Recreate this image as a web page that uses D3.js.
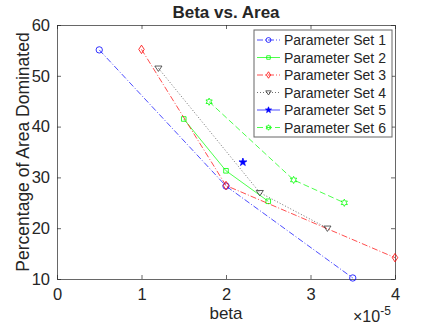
<!DOCTYPE html>
<html>
<head>
<meta charset="utf-8">
<script src="https://cdn.jsdelivr.net/npm/d3@7"></script>
<style>
  body { margin: 0; background: #fff; }
  text { font-family: "Liberation Sans", Arial, sans-serif; fill: #262626; }
</style>
</head>
<body>
<div id="chart"></div>
<script>
// data (beta in units of 1e-5)
var set1 = [[0.5, 55.1], [2, 28.3], [3.5, 10.2]];
var set2 = [[1.5, 41.5], [2, 31.3], [2.5, 25.3]];
var set3 = [[1, 55.2], [2, 28.4], [4, 14.2]];
var set4 = [[1.2, 51.5], [2.4, 27], [3.2, 20]];
var set5 = [[2.2, 33]];
var set6 = [[1.8, 44.9], [2.8, 29.5], [3.4, 25]];
var seriesNames = ["Parameter Set 1", "Parameter Set 2", "Parameter Set 3",
                   "Parameter Set 4", "Parameter Set 5", "Parameter Set 6"];
var xTicks = [0, 1, 2, 3, 4];
var yTicks = [10, 20, 30, 40, 50, 60];

var styles = [
  {color: "#0000ff", dash: "6,2,1,2", symbol: "circle"},
  {color: "#00ff00", dash: null, symbol: "square"},
  {color: "#ff0000", dash: "6,2,1,2", symbol: "diamond"},
  {color: "#333333", dash: "1,2", symbol: "triangle"},
  {color: "#0000ff", dash: null, symbol: "star"},
  {color: "#00ff00", dash: "6,3", symbol: "hexagram"}
];
var allSets = [set1, set2, set3, set4, set5, set6];

var W = 436, H = 327;
var margin = {top: 25, right: 41, bottom: 48, left: 57},
    width = W - margin.left - margin.right,
    height = H - margin.top - margin.bottom;

var svg = d3.select("#chart").append("svg")
    .attr("width", W).attr("height", H);

var g = svg.append("g")
    .attr("transform", "translate(" + margin.left + "," + margin.top + ")");

var xScale = d3.scaleLinear().domain([0, 4]).range([0, width]);
var yScale = d3.scaleLinear().domain([10, 60]).range([height, 0]);

// axes (MATLAB style, ticks pointing in, box on)
var axColor = "#262626";
g.append("g")
    .attr("transform", "translate(0," + height + ")")
    .call(d3.axisBottom(xScale).tickValues(xTicks).tickFormat(d3.format("d"))
      .tickSizeInner(-4).tickSizeOuter(0).tickPadding(9));
g.append("g")
    .call(d3.axisLeft(yScale).tickValues(yTicks).tickFormat(d3.format("d"))
      .tickSizeInner(-4).tickSizeOuter(0).tickPadding(7));
g.append("g")
    .call(d3.axisTop(xScale).tickValues(xTicks).tickSizeInner(-4).tickSizeOuter(0).tickFormat(""));
g.append("g")
    .attr("transform", "translate(" + width + ",0)")
    .call(d3.axisRight(yScale).tickValues(yTicks).tickSizeInner(-4).tickSizeOuter(0).tickFormat(""));

g.selectAll(".domain").attr("stroke", axColor).attr("stroke-opacity", 0.7);
g.selectAll(".tick line").attr("stroke", axColor).attr("stroke-opacity", 0.7);
g.selectAll(".tick text")
    .attr("font-family", "Liberation Sans, Arial, sans-serif")
    .attr("font-size", "16.5px")
    .attr("fill", axColor);

// symbol path for markers
function markerPath(name, s) {
  if (name === "circle") return d3.symbol(d3.symbolCircle, s * s * 0.75)();
  if (name === "square") return d3.symbol(d3.symbolSquare, s * s * 0.5)();
  if (name === "diamond") {
    var a = s * 0.65;
    return "M0," + (-a) + "L" + (a * 0.65) + ",0L0," + a + "L" + (-a * 0.65) + ",0Z";
  }
  if (name === "triangle") {
    var t = s * 0.55;
    return "M" + (-t) + "," + (-t * 0.6) + "L" + t + "," + (-t * 0.6) + "L0," + (t * 0.9) + "Z";
  }
  if (name === "star") return d3.symbol(d3.symbolStar, s * s * 0.45)();
  if (name === "hexagram") {
    var pts = [];
    for (var i = 0; i < 12; i++) {
      var r = i % 2 === 0 ? s * 0.55 : s * 0.3;
      var ang = Math.PI / 6 * i - Math.PI / 2;
      pts.push([r * Math.cos(ang), r * Math.sin(ang)]);
    }
    return "M" + pts.map(function(p) { return p.join(","); }).join("L") + "Z";
  }
}

var line = d3.line()
    .x(function(d) { return xScale(d[0]); })
    .y(function(d) { return yScale(d[1]); });

// draw each series
allSets.forEach(function(data, i) {
  var st = styles[i];
  if (data.length > 1) {
    g.append("path")
        .datum(data)
        .attr("d", line)
        .attr("fill", "none")
        .attr("stroke", st.color)
        .attr("stroke-width", 0.7)
        .attr("stroke-dasharray", st.dash);
  }
  g.selectAll(".m" + i)
      .data(data)
      .enter()
      .append("path")
      .attr("d", markerPath(st.symbol, 6.5))
      .attr("transform", function(d) { return "translate(" + xScale(d[0]) + "," + yScale(d[1]) + ")"; })
      .attr("fill", st.symbol === "star" ? st.color : "none")
      .attr("stroke", st.color)
      .attr("stroke-width", 0.8);
});

// legend
var legend = g.append("g").attr("transform", "translate(197,5)");
legend.append("rect")
    .attr("width", 138).attr("height", 107)
    .attr("fill", "#fff")
    .attr("stroke", axColor).attr("stroke-opacity", 0.7);
seriesNames.forEach(function(name, i) {
  var st = styles[i];
  var yy = 10 + i * 17.5;
  legend.append("line")
      .attr("x1", 3).attr("x2", 26).attr("y1", yy).attr("y2", yy)
      .attr("stroke", st.color).attr("stroke-width", 0.7)
      .attr("stroke-dasharray", st.dash);
  legend.append("path")
      .attr("d", markerPath(st.symbol, 5))
      .attr("transform", "translate(14.5," + yy + ")")
      .attr("fill", st.symbol === "star" ? st.color : "none")
      .attr("stroke", st.color).attr("stroke-width", 0.8);
  legend.append("text")
      .attr("x", 30).attr("y", yy + 5)
      .attr("font-size", "14px")
      .text(name);
});

// title and axis labels
svg.append("text")
    .attr("x", margin.left + width / 2).attr("y", 18)
    .attr("text-anchor", "middle")
    .attr("font-size", "17px")
    .attr("font-weight", "bold")
    .attr("fill", "#000")
    .text("Beta vs. Area");

svg.append("text")
    .attr("x", margin.left + width / 2).attr("y", 319)
    .attr("text-anchor", "middle")
    .attr("font-size", "17px")
    .text("beta");

svg.append("text")
    .attr("transform", "translate(29," + (margin.top + height / 2) + ") rotate(-90)")
    .attr("text-anchor", "middle")
    .attr("font-size", "17.5px")
    .text("Percentage of Area Dominated");

var expo = svg.append("text")
    .attr("x", 353).attr("y", 322)
    .attr("font-size", "16px");
expo.append("tspan").text("\u00d710");
expo.append("tspan").attr("dy", -7).attr("font-size", "12px").text("-5");
</script>
</body>
</html>
